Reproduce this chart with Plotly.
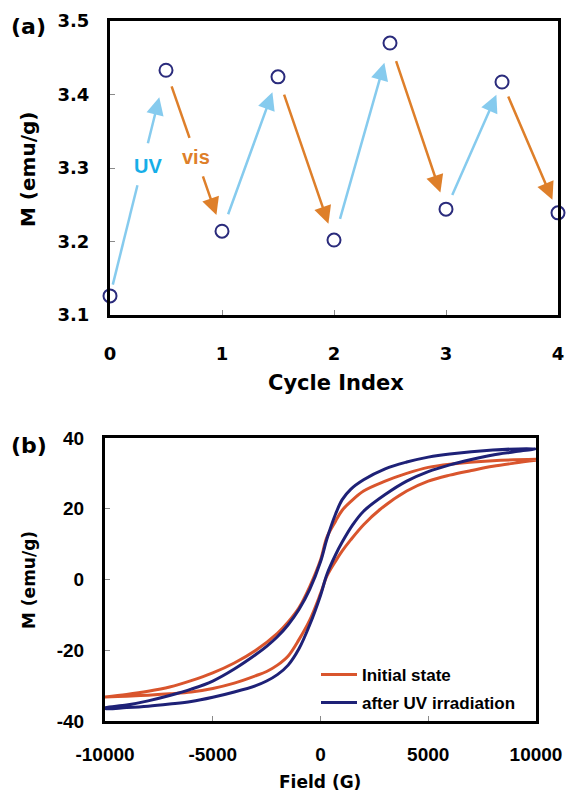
import plotly.graph_objects as go

# ---------------- Panel (a) data ----------------
cycle_index = [0, 0.5, 1, 1.5, 2, 2.5, 3, 3.5, 4]
moment_a = [3.126, 3.433, 3.214, 3.424, 3.202, 3.470, 3.244, 3.417, 3.239]
x_ticks_a = [0, 1, 2, 3, 4]
y_ticks_a = [3.1, 3.2, 3.3, 3.4, 3.5]

# ---------------- Panel (b) data ----------------
field_desc_init = [10000, 8000, 6000, 5000, 4000, 3000, 2000, 1400, 1000, 700, 300, 0,
                   -500, -1000, -1500, -2000, -3000, -4000, -5000, -6000, -7000, -8000, -9000, -10000]
m_desc_init = [34.0, 33.6, 32.6, 31.7, 30.0, 27.8, 25.0, 22.0, 19.5, 16.5, 12.0, 5.5,
               -2.0, -8.0, -12.0, -15.2, -20.0, -23.6, -26.4, -28.6, -30.4, -31.6, -32.5, -33.2]
field_asc_init = [-10000, -9000, -8000, -7000, -6000, -5000, -4000, -3000, -2500, -2000, -1500, -1000, -500,
                  0, 300, 700, 1000, 1400, 2000, 2760, 4000, 5000, 6000, 7000, 8000, 9000, 10000]
m_asc_init = [-33.2, -33.0, -32.7, -32.3, -31.8, -30.8, -29.3, -27.2, -26.0, -24.2, -21.6, -17.0, -11.5,
              -4.0, 1.0, 5.2, 8.0, 11.2, 15.5, 19.8, 25.0, 27.8, 29.5, 30.8, 32.0, 32.9, 33.7]

field_desc_uv = [10000, 8000, 6000, 5000, 4000, 3000, 2000, 1400, 1000, 700, 300, 0,
                 -500, -1000, -1500, -2000, -2500, -3000, -4000, -5000, -6000, -7000, -8000, -9000, -10000]
m_desc_uv = [37.0, 36.6, 35.5, 34.6, 33.2, 31.3, 28.2, 25.5, 22.5, 18.5, 11.5, 5.0,
             -2.8, -8.5, -12.8, -16.2, -18.9, -21.2, -25.3, -28.7, -31.0, -32.8, -34.3, -35.5, -36.3]
field_asc_uv = [-10000, -9000, -8000, -7000, -6000, -5000, -4000, -3000, -2500, -2000, -1500, -1000, -500,
                0, 300, 700, 1000, 1500, 2000, 3000, 4000, 5000, 6000, 7000, 8000, 9000, 10000]
m_asc_uv = [-36.5, -36.2, -35.8, -35.2, -34.5, -33.3, -31.8, -30.0, -28.7, -26.9, -24.2, -19.6, -12.8,
            -4.5, 1.5, 7.0, 10.5, 15.5, 19.3, 24.0, 27.8, 30.5, 32.4, 33.9, 35.2, 36.1, 37.0]
x_ticks_b = [-10000, -5000, 0, 5000, 10000]
y_ticks_b = [-40, -20, 0, 20, 40]

series_names = ["Initial state", "after UV irradiation"]

# ---------------- styles ----------------
W, H = 566, 794
NAVY_MK = "#2A2B7C"
LIGHT_BLUE = "#86CBEE"
UV_TEXT = "#16AEE8"
ORANGE = "#DE7F2A"
RED_ORANGE = "#D9552D"
NAVY = "#1E2177"


def px(x):
    return x / W


def py(y):
    return 1 - y / H


fig = go.Figure()

fig.add_trace(go.Scatter(
    x=cycle_index, y=moment_a, mode="markers", xaxis="x", yaxis="y",
    marker=dict(symbol="circle-open", size=13, color=NAVY_MK, line=dict(width=2, color=NAVY_MK)),
    cliponaxis=False, showlegend=False,
))

fig.add_trace(go.Scatter(
    x=field_desc_init + field_asc_init, y=m_desc_init + m_asc_init,
    mode="lines", xaxis="x2", yaxis="y2", name=series_names[0],
    line=dict(color=RED_ORANGE, width=3, shape="spline", smoothing=1.0),
    legend="legend",
))
fig.add_trace(go.Scatter(
    x=field_desc_uv + field_asc_uv, y=m_desc_uv + m_asc_uv,
    mode="lines", xaxis="x2", yaxis="y2", name=series_names[1],
    line=dict(color=NAVY, width=3, shape="spline", smoothing=1.0),
    legend="legend2",
))

# ---------------- arrows in panel (a) ----------------
def lerp(i, f):
    x0, y0 = cycle_index[i], moment_a[i]
    x1, y1 = cycle_index[i + 1], moment_a[i + 1]
    return x0 + f * (x1 - x0), y0 + f * (y1 - y0)


annotations = []
shapes = []
gaps = {0: (0.49, 0.67), 1: (0.42, 0.65)}
for i in range(len(cycle_index) - 1):
    color = LIGHT_BLUE if i % 2 == 0 else ORANGE
    f0 = 0.05 if i == 0 else 0.1
    f1 = 0.88 if i == 0 else 0.9
    if i in gaps:
        g0, g1 = gaps[i]
        xs, ys = lerp(i, f0)
        xg, yg = lerp(i, g0)
        shapes.append(dict(type="line", xref="x", yref="y", x0=xs, y0=ys, x1=xg, y1=yg,
                           line=dict(color=color, width=2.5)))
        f0 = g1
    xs, ys = lerp(i, f0)
    xe, ye = lerp(i, f1)
    annotations.append(dict(x=xe, y=ye, ax=xs, ay=ys, xref="x", yref="y", axref="x", ayref="y",
                            showarrow=True, arrowhead=2, arrowsize=1.4, arrowwidth=2.5,
                            arrowcolor=color, text="", standoff=0, startstandoff=0))

annotations.append(dict(x=0.339, y=3.303, xref="x", yref="y", text="UV", showarrow=False,
                        font=dict(family="Liberation Sans, Arial", size=20, color=UV_TEXT, weight="bold")))
annotations.append(dict(x=0.768, y=3.315, xref="x", yref="y", text="vis", showarrow=False,
                        font=dict(family="Liberation Sans, Arial", size=20, color=ORANGE, weight="bold")))


def label(text, x, y, size, family="DejaVu Sans", angle=0):
    annotations.append(dict(x=px(x), y=py(y), xref="paper", yref="paper", text=text, showarrow=False,
                            xanchor="center", yanchor="middle", textangle=angle,
                            font=dict(family=family, size=size, color="black", weight="bold")))


label("(a)", 28, 27, 22)
label("(b)", 29, 445, 22)
label("M (emu/g)", 28, 170, 20, angle=-90)
label("Cycle Index", 336, 383, 21)
label("M (emu/g)", 29, 580, 17, angle=-90)
label("Field (G)", 320, 782, 17)

axis_common = dict(showline=True, linecolor="black", linewidth=3, mirror=True, showgrid=False,
                   zeroline=False, ticks="inside", ticklen=5, tickcolor="#8a8a8a", tickwidth=1,
                   automargin=False)
font_a = dict(family="DejaVu Sans", size=18, color="black", weight="bold")
font_b = dict(family="Liberation Sans, Arial", size=19, color="black", weight="bold")
legend_font = dict(family="Liberation Sans, Arial", size=17, color="black", weight="bold")

fig.update_layout(
    width=W, height=H,
    margin=dict(l=0, r=0, t=0, b=0, autoexpand=False),
    paper_bgcolor="white", plot_bgcolor="white",
    xaxis=dict(domain=[px(110), px(558)], range=[0, 4], tickvals=x_ticks_a,
               ticktext=[str(v) for v in x_ticks_a], anchor="y",
               tickfont=font_a, ticklabelstandoff=20, **axis_common),
    yaxis=dict(domain=[py(315), py(21)], range=[3.1, 3.5], tickvals=y_ticks_a,
               ticktext=["%.1f" % v for v in y_ticks_a],
               anchor="x", tickfont=font_a, ticklabelstandoff=14, **axis_common),
    xaxis2=dict(domain=[px(105), px(536)], range=[-10000, 10000], tickvals=x_ticks_b,
                ticktext=[str(v) for v in x_ticks_b], anchor="y2",
                tickfont=font_b, ticklabelstandoff=14, **axis_common),
    yaxis2=dict(domain=[py(721), py(438)], range=[-40, 40], tickvals=y_ticks_b,
                ticktext=[str(v) for v in y_ticks_b], anchor="x2",
                tickfont=font_b, ticklabelstandoff=14, **axis_common),
    legend=dict(x=px(316), y=py(675), xanchor="left", yanchor="middle", bgcolor="rgba(0,0,0,0)",
                font=legend_font, itemwidth=36),
    legend2=dict(x=px(316), y=py(703), xanchor="left", yanchor="middle", bgcolor="rgba(0,0,0,0)",
                 font=legend_font, itemwidth=36),
    annotations=annotations,
    shapes=shapes,
)

fig.write_html("out.html")
